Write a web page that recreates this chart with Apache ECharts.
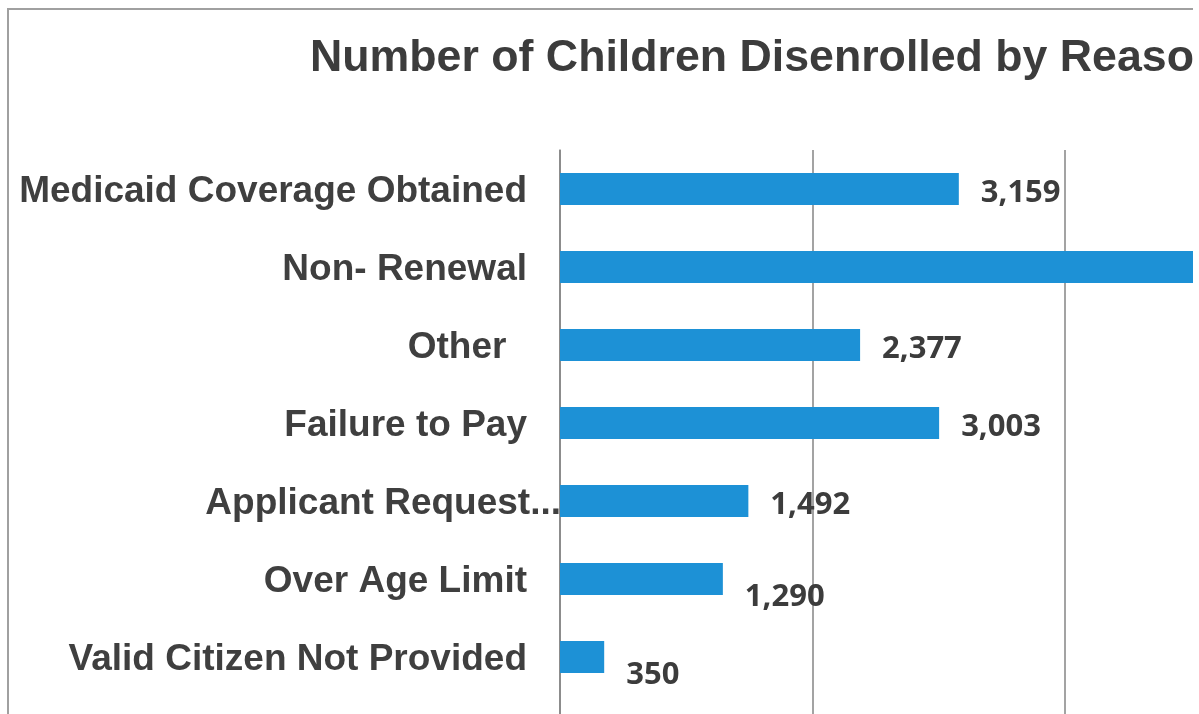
<!DOCTYPE html>
<html>
<head>
<meta charset="utf-8">
<script src="https://cdn.jsdelivr.net/npm/echarts@6/dist/echarts.min.js"></script>
<style>
html,body{margin:0;padding:0;background:#fff;}
#chart{width:1199px;height:714px;}
</style>
</head>
<body>
<div id="chart"></div>
<script>
// ---- data ----
const titleText = 'Number of Children Disenrolled by Reason';
const categories = [
  'Medicaid Coverage Obtained',
  'Non- Renewal',
  'Other  ',
  'Failure to Pay',
  'Applicant Request...',
  'Over Age Limit',
  'Valid Citizen Not Provided'
];
const values = [3159, 5020, 2377, 3003, 1492, 1290, 350];
const axisMin = 0;
const axisMax = 8000;
const axisStep = 2000;

// ---- presentation ----
const labelDrop = {5: 14, 6: 14};   // labels that sit lower in the original
const overlapLabel = 4;              // label that runs into the axis line

const chart = echarts.init(document.getElementById('chart'));
chart.setOption({
  animation: false,
  backgroundColor: '#ffffff',
  title: {
    text: titleText,
    left: 305,
    top: 31,
    textStyle: {
      fontFamily: '"Liberation Sans", Arial, sans-serif',
      fontWeight: 'bold',
      fontSize: 44.7,
      color: '#3c3c3c'
    }
  },
  grid: {left: 560, top: 150, width: 1010, height: 624, containLabel: false, outerBoundsMode: 'none'},
  xAxis: {
    type: 'value',
    min: axisMin,
    max: axisMax,
    interval: axisStep,
    axisLine: {show: false},
    axisTick: {show: false},
    axisLabel: {show: false},
    splitLine: {show: true, lineStyle: {color: '#858585', width: 1.5}}
  },
  yAxis: {
    type: 'category',
    inverse: true,
    data: categories,
    max: categories.length,
    axisLine: {show: true, lineStyle: {color: '#858585', width: 1.5}},
    axisTick: {show: false},
    axisLabel: {
      margin: 0,
      formatter: function (v, i) {
        if (v === undefined || v === null || i >= categories.length) return '';
        return i === overlapLabel ? '{o|' + v + '}' : '{n|' + v + '}';
      },
      rich: {
        n: {fontFamily: '"Liberation Sans", Arial, sans-serif', fontWeight: 'bold', fontSize: 37, color: '#3f3f3f', padding: [6, 33, 0, 0]},
        o: {fontFamily: '"Liberation Sans", Arial, sans-serif', fontWeight: 'bold', fontSize: 37, color: '#3f3f3f', padding: [6, -1, 0, 0]}
      }
    }
  },
  series: [{
    type: 'bar',
    barWidth: 32,
    itemStyle: {color: '#1d91d6'},
    data: values.map(function (v, i) {
      return {
        value: v,
        label: {offset: [0, 4 + (labelDrop[i] || 0)]}
      };
    }),
    label: {
      show: true,
      position: 'right',
      distance: 22,
      fontFamily: '"Open Sans", "Lato", sans-serif',
      fontWeight: 'bold',
      fontSize: 31,
      color: '#3c3c3c',
      formatter: function (p) { return p.value.toLocaleString('en-US'); }
    }
  }],
  graphic: [
    {
      type: 'rect', z: 100, silent: true,
      shape: {x: 8, y: 9, width: 1400, height: 900},
      style: {fill: 'none', stroke: '#a0a0a0', lineWidth: 2}
    },
    {
      type: 'rect', z: 101, silent: true,
      shape: {x: 1193, y: 0, width: 20, height: 714},
      style: {fill: '#ffffff'}
    }
  ]
});
</script>
</body>
</html>
